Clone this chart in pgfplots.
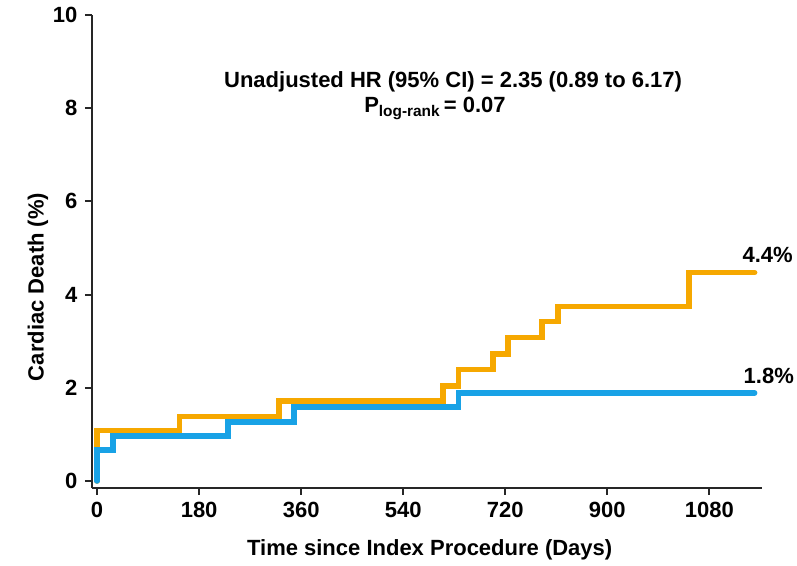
\documentclass[border=0pt]{standalone}
\usepackage{pgfplots}
\pgfplotsset{compat=1.18}
\usepackage{fontspec}
\setmainfont{Liberation Sans}
\definecolor{korange}{RGB}{246,168,0}
\definecolor{kblue}{RGB}{24,162,230}
\begin{document}
\fontsize{22bp}{26bp}\selectfont\bfseries
\begin{tikzpicture}
\path[use as bounding box] (-92bp,-78bp) rectangle (705bp,488bp);
\begin{axis}[
  at={(0,0)}, anchor=south west,
  scale only axis, width=670bp, height=473bp,
  xmin=-9, xmax=1173, ymin=-0.15, ymax=10,
  axis lines=left, axis line style={-, line width=2.2bp, color=black!85},
  xtick={0,180,360,540,720,900,1080},
  ytick={0,2,4,6,8,10},
  tick align=outside, major tick length=7bp,
  tick style={line width=2bp, color=black!85},
  /pgf/number format/assume math mode=true,
  /pgf/number format/1000 sep={},
  ticklabel style={font=\fontsize{22bp}{26bp}\selectfont\bfseries},
  xlabel={Time since Index Procedure (Days)},
  ylabel={Cardiac Death (\%)},
  xlabel style={at={(rel axis cs:0.504,-0.131)}, anchor=center, font=\fontsize{22bp}{26bp}\selectfont\bfseries},
  ylabel style={at={(rel axis cs:-0.0806,0.425)}, anchor=center, rotate=0, font=\fontsize{22bp}{26bp}\selectfont\bfseries},
  clip=false,
]
\addplot[const plot, korange, line width=5.5bp, line cap=round, line join=miter] coordinates {
(0,0) (0,1.08) (145,1.38) (321,1.72) (610,2.04) (638,2.39) (698,2.73) (725,3.08) (785,3.42) (813,3.74) (1044,4.47) (1160,4.47)};
\addplot[const plot, kblue, line width=5.5bp, line cap=round, line join=miter] coordinates {
(0,0) (0,0.67) (28,0.97) (231,1.27) (347,1.59) (638,1.89) (1160,1.89)};
\node[anchor=center] at (axis cs:628,8.56) {Unadjusted HR (95\% CI) = 2.35 (0.89 to 6.17)};
\node[anchor=center] at (axis cs:596,8.0) {P\textsubscript{log-rank}\,= 0.07};
\node[anchor=center] at (axis cs:1183,4.86) {4.4\%};
\node[anchor=center] at (axis cs:1185,2.26) {1.8\%};
\end{axis}
\end{tikzpicture}
\end{document}
